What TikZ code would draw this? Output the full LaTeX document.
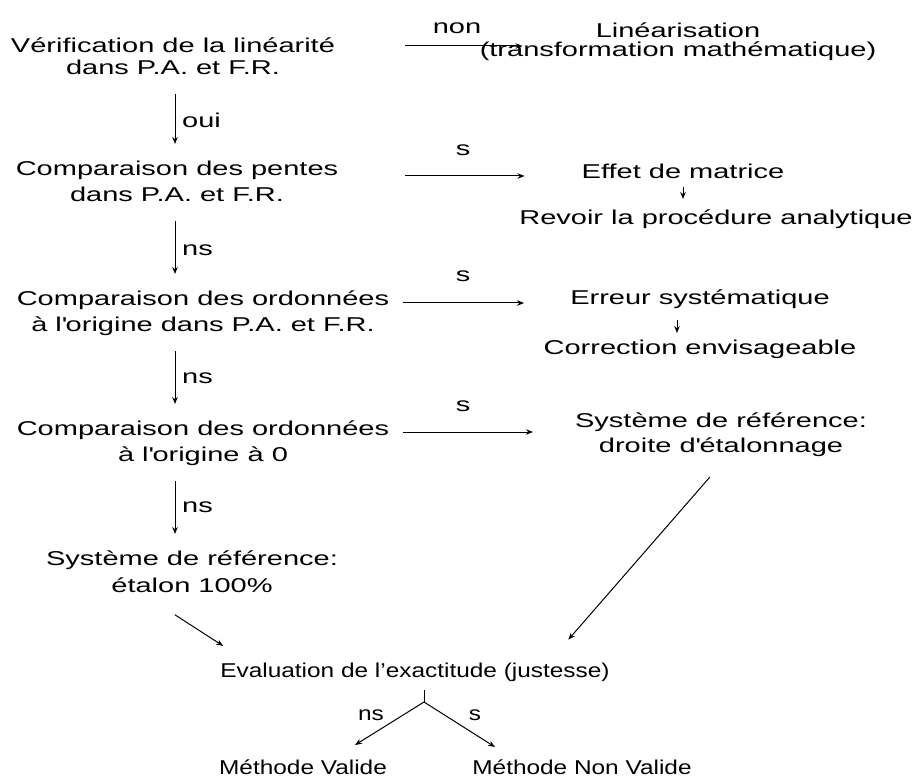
\documentclass[tikz,border=0pt]{standalone}
\usepackage{fontspec}
\setmainfont[FakeStretch=1.45]{Liberation Sans}
\newfontfamily\evalfont[FakeStretch=1.22]{Liberation Sans}
\usetikzlibrary{arrows.meta}
\newcommand{\st}{\rule[-5pt]{0pt}{21pt}}
\newcommand{\ap}{\textquotesingle}
\begin{document}
\begin{tikzpicture}[x=1pt,y=-1pt,
  txt/.style={inner sep=0pt, align=center, anchor=north, font=\fontsize{20}{26}\selectfont},
  btxt/.style={inner sep=0pt, anchor=base, font=\evalfont\fontsize{20}{26}\selectfont},
  lbl/.style={inner sep=0pt, font=\fontsize{20}{24}\selectfont},
  blbl/.style={inner sep=0pt, font=\evalfont\fontsize{20}{24}\selectfont},
  arr/.style={-{Stealth[length=7pt,width=5.5pt]}, line width=1pt},
  vline/.style={arr, shorten <=15pt, shorten >=15pt}
  ]
\useasboundingbox[fill=white] (0,0) rectangle (919,778);

% left column
\node[txt, font=\fontsize{20}{22}\selectfont] (a) at (173,36) {\st Vérification de la linéarité\\\st dans P.A. et F.R.};
\node[txt] (b) at (177,159) {\st Comparaison des pentes\\\st dans P.A. et F.R.};
\node[txt] (c) at (203,289) {\st Comparaison des ordonnées\\\st à l\ap origine dans P.A. et F.R.};
\node[txt] (d) at (203,419) {\st Comparaison des ordonnées\\\st à l\ap origine à 0};
\node[txt, font=\fontsize{20}{27}\selectfont] (e) at (192,549) {\st Système de référence:\\\st étalon 100\%};

% right column
\node[txt, font=\fontsize{20}{19}\selectfont] (lin) at (678,21) {\rule{0pt}{16pt}Linéarisation\\(transformation mathématique)};
\node[txt] (eff) at (683,162) {\st Effet de matrice};
\node[txt] (rev) at (716,208) {\st Revoir la procédure analytique};
\node[txt] (err) at (700,288) {\st Erreur systématique};
\node[txt] (corr) at (700,338) {\st Correction envisageable};
\node[txt, font=\fontsize{20}{25}\selectfont] (sysr) at (721,411) {\st Système de référence:\\\st droite d\ap étalonnage};

% bottom
\node[btxt] (ev) at (415,677) {Evaluation de l’exactitude (justesse)};
\node[btxt] (mv) at (303,774) {Méthode Valide};
\node[btxt] (mnv) at (582,774) {Méthode Non Valide};
\coordinate (fk) at (424,702);

% vertical arrows, left column
\draw[vline] ([xshift=2pt]a.south) -- ([xshift=2pt]a.south |- b.north);
\draw[vline] ([xshift=-2pt]b.south) -- ([xshift=-2pt]b.south |- c.north);
\draw[vline] ([xshift=-28pt]c.south) -- ([xshift=-28pt]c.south |- d.north);
\draw[vline] ([xshift=-28pt]d.south) -- ([xshift=-28pt]d.south |- e.north);
\node[lbl, anchor=west] (l1) at (182,120) {oui};
\node[lbl, anchor=west] (l2) at (182,250) {ns};
\node[lbl, anchor=west] (l3) at (182,378) {ns};
\node[lbl, anchor=west] (l4) at (182,507) {ns};

% horizontal arrows
\draw[arr] ([xshift=70pt,yshift=-10pt]a.north east) -- ([xshift=43pt,yshift=-10pt]a.north east -| lin.west);
\draw[arr] ([xshift=67pt,yshift=-17pt]b.north east) -- ([xshift=-57pt,yshift=-17pt]b.north east -| eff.west);
\draw[arr] ([xshift=14pt,yshift=-14pt]c.north east) -- ([xshift=-46pt,yshift=-14pt]c.north east -| err.west);
\draw[arr] ([xshift=14pt,yshift=-13pt]d.north east) -- ([xshift=-42pt,yshift=-13pt]d.north east -| sysr.west);
\node[lbl] (n1) at (457,28) {non};
\node[lbl] (n2) at (463,150) {s};
\node[lbl] (n3) at (463,276) {s};
\node[lbl] (n4) at (463,406) {s};

% small arrows right column
\draw[arr, shorten <=4pt, shorten >=9pt] (eff.south) -- (eff.south |- rev.north);
\draw[arr, shorten <=11pt, shorten >=5pt] ([xshift=-23pt]err.south) -- ([xshift=-23pt]err.south |- corr.north);

% diagonal arrows to evaluation
\draw[arr, shorten <=32pt, shorten >=26pt] ([xshift=-44pt]e.south) -- ([xshift=-170pt,yshift=17pt]ev.base);
\draw[arr, shorten <=26pt, shorten >=31pt] ([xshift=6pt]sysr.south) -- ([xshift=133pt,yshift=14pt]ev.base);

% fork
\draw[line width=1pt] ([yshift=-13pt]ev.base -| fk) -- (fk);
\draw[arr] (fk) -- ([xshift=52pt,yshift=29pt]mv.base);
\draw[arr] (fk) -- ([xshift=-87pt,yshift=27pt]mnv.base);
\node[blbl] (n5) at (371,715) {ns};
\node[blbl] (n6) at (475,715) {s};
\end{tikzpicture}
\end{document}
